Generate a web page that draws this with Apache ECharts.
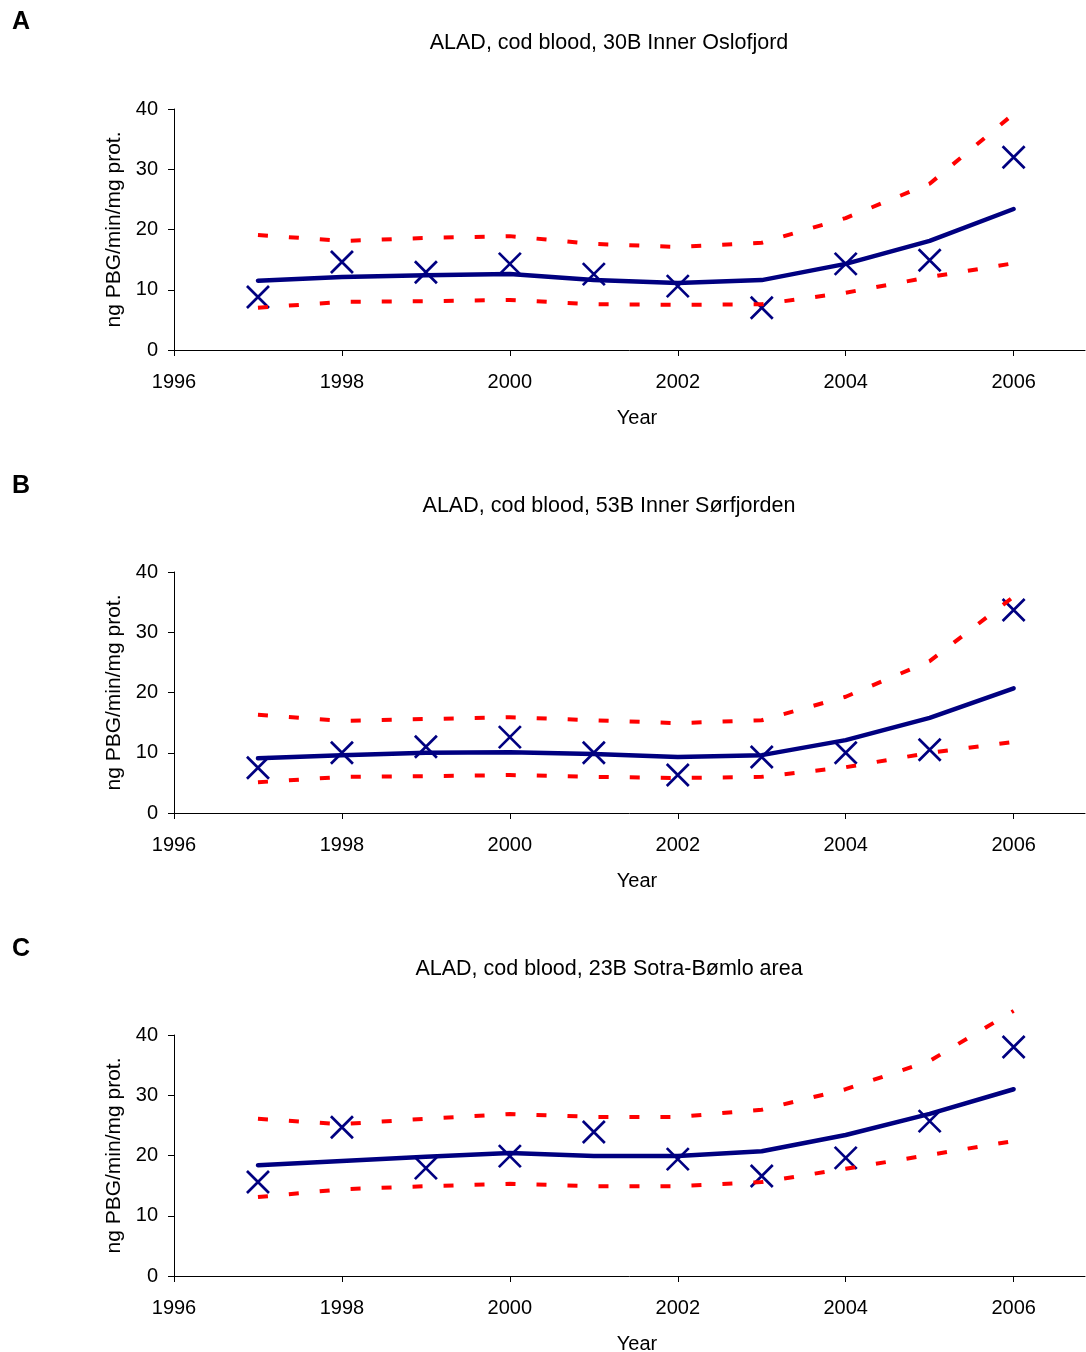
<!DOCTYPE html>
<html>
<head>
<meta charset="utf-8">
<script src="https://cdn.jsdelivr.net/npm/echarts@6/dist/echarts.min.js"></script>
<style>
html,body{margin:0;padding:0;background:#fff;}
#chart{width:1086px;height:1352px;}
</style>
</head>
<body>
<div id="chart"></div>
<script>
// ---- data ----
const years = [1997, 1998, 1999, 2000, 2001, 2002, 2003, 2004, 2005, 2006];
const xTicks = [1996, 1998, 2000, 2002, 2004, 2006];
const yTicks = [0, 10, 20, 30, 40];
const panelLetters = ['A', 'B', 'C'];
const panelTitles = [
  'ALAD, cod blood, 30B Inner Oslofjord',
  'ALAD, cod blood, 53B Inner Sørfjorden',
  'ALAD, cod blood, 23B Sotra-Bømlo area'
];
// Panel A
const obsA   = [8.8, 14.6, 12.9, 14.3, 12.6, 10.6, 7.0, 14.3, 14.9, 32.0];
const trendA = [11.5, 12.1, 12.4, 12.6, 11.6, 11.1, 11.6, 14.3, 18.1, 23.4];
const upperA = [19.1, 18.1, 18.6, 18.9, 17.6, 17.1, 17.8, 21.9, 27.6, 39.2];
const lowerA = [7.0, 8.0, 8.1, 8.3, 7.6, 7.5, 7.6, 9.5, 12.1, 14.4];
// Panel B
const obsB   = [7.5, 10.0, 11.0, 12.6, 10.0, 6.3, 9.3, 10.0, 10.5, 33.7];
const trendB = [9.1, 9.6, 10.0, 10.1, 9.8, 9.3, 9.6, 12.1, 15.8, 20.7];
const upperB = [16.3, 15.3, 15.6, 15.9, 15.4, 14.9, 15.4, 19.3, 25.2, 35.9];
const lowerB = [5.1, 6.0, 6.1, 6.3, 6.0, 5.8, 6.0, 7.6, 10.0, 11.8];
// Panel C
const obsC   = [15.6, 24.7, 17.9, 19.9, 23.9, 19.4, 16.6, 19.6, 25.7, 38.0];
const trendC = [18.4, 19.1, 19.8, 20.4, 19.9, 19.9, 20.7, 23.4, 26.9, 31.0];
const upperC = [26.1, 25.2, 26.1, 26.9, 26.4, 26.4, 27.6, 31.0, 35.7, 44.0];
const lowerC = [13.1, 14.4, 14.9, 15.3, 14.9, 14.9, 15.6, 17.8, 20.1, 22.4];

const panels = [
  {obs: obsA, trend: trendA, upper: upperA, lower: lowerA},
  {obs: obsB, trend: trendB, upper: upperB, lower: lowerB},
  {obs: obsC, trend: trendC, upper: upperC, lower: lowerC}
];

// ---- layout ----
const FONT = '"Liberation Sans", Arial, sans-serif';
const gridTop0 = 109, gridH = 241, step = 463;
const gridLeft = 174, gridW = 911;
const NAVY = '#000080', RED = '#FF0000';

function pairs(vals){ return years.map((y,i)=>[y, vals[i]]); }

const grids = [], xAxes = [], yAxes = [], series = [], graphics = [];
panels.forEach((p, k) => {
  const top = gridTop0 + k*step;
  grids.push({left: gridLeft, top: top, width: gridW, height: gridH});
  xAxes.push({
    type: 'value', gridIndex: k, min: 1996, max: 2006.85, interval: 2,
    axisLine: {show: true, onZero: false, lineStyle: {color: '#000', width: 1}},
    axisTick: {show: true, length: 6, inside: false, customValues: xTicks, lineStyle: {color: '#000'}},
    axisLabel: {customValues: xTicks, color: '#000', fontSize: 20, fontFamily: FONT, margin: 22,
                formatter: v => String(v)},
    splitLine: {show: false}
  });
  yAxes.push({
    type: 'value', gridIndex: k, min: 0, max: 40, interval: 10,
    axisLine: {show: true, lineStyle: {color: '#000', width: 1}},
    axisTick: {show: true, length: 6, inside: false, customValues: yTicks, lineStyle: {color: '#000'}},
    axisLabel: {customValues: yTicks, color: '#000', fontSize: 20, fontFamily: FONT, margin: 16},
    splitLine: {show: false},
    name: 'ng PBG/min/mg prot.', nameLocation: 'middle', nameGap: 48,
    nameTextStyle: {color: '#000', fontSize: 21, fontFamily: FONT}
  });
  series.push({
    type: 'line', xAxisIndex: k, yAxisIndex: k, data: pairs(p.upper), showSymbol: false, symbol: 'none',
    clip: false, silent: true,
    lineStyle: {color: RED, width: 4, type: [10, 21], cap: 'butt'}
  });
  series.push({
    type: 'line', xAxisIndex: k, yAxisIndex: k, data: pairs(p.lower), showSymbol: false, symbol: 'none',
    clip: false, silent: true,
    lineStyle: {color: RED, width: 4, type: [10, 21], cap: 'butt'}
  });
  series.push({
    type: 'line', xAxisIndex: k, yAxisIndex: k, data: pairs(p.trend), showSymbol: false, symbol: 'none',
    clip: false, silent: true,
    lineStyle: {color: NAVY, width: 4.5, cap: 'round', join: 'round'}
  });
  series.push({
    type: 'scatter', xAxisIndex: k, yAxisIndex: k, data: pairs(p.obs), clip: false, silent: true,
    symbol: 'path://M0,0L10,10M10,0L0,10', symbolSize: 22,
    itemStyle: {color: 'rgba(0,0,0,0)', borderColor: NAVY, borderWidth: 2.7, opacity: 1}
  });
  graphics.push({
    type: 'text', x: 609, y: 43 + k*step,
    style: {text: panelTitles[k], fill: '#000', font: '21.5px ' + FONT, textAlign: 'center', textVerticalAlign: 'middle'}
  });
  graphics.push({
    type: 'text', x: 21, y: 22 + k*step + (k===0?0:1),
    style: {text: panelLetters[k], fill: '#000', font: 'bold 25px ' + FONT, textAlign: 'center', textVerticalAlign: 'middle'}
  });
  graphics.push({
    type: 'text', x: 637, y: 418 + k*step,
    style: {text: 'Year', fill: '#000', font: '20px ' + FONT, textAlign: 'center', textVerticalAlign: 'middle'}
  });
});

const chart = echarts.init(document.getElementById('chart'), null, {renderer: 'canvas'});
chart.setOption({
  animation: false,
  backgroundColor: '#fff',
  grid: grids,
  xAxis: xAxes,
  yAxis: yAxes,
  series: series,
  graphic: graphics
});
</script>
</body>
</html>
